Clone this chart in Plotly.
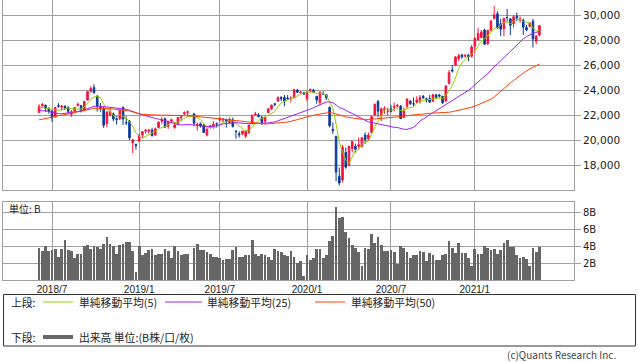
import plotly.graph_objects as go
import pandas as pd

# ---------------- data ----------------
dates = [
    # 2018
    "2018-06-04", "2018-06-11", "2018-06-18", "2018-06-25", "2018-07-02", "2018-07-09", "2018-07-16",
    "2018-07-23", "2018-07-30", "2018-08-06", "2018-08-13", "2018-08-20", "2018-08-27", "2018-09-03",
    "2018-09-10", "2018-09-17", "2018-09-24", "2018-10-01", "2018-10-08", "2018-10-15", "2018-10-22",
    "2018-10-29", "2018-11-05", "2018-11-12", "2018-11-19", "2018-11-26", "2018-12-03", "2018-12-10",
    "2018-12-17", "2018-12-24", "2018-12-31",
    # 2019
    "2019-01-07", "2019-01-14", "2019-01-21", "2019-01-28", "2019-02-04", "2019-02-11", "2019-02-18",
    "2019-02-25", "2019-03-04", "2019-03-11", "2019-03-18", "2019-03-25", "2019-04-01", "2019-04-08",
    "2019-04-15", "2019-04-22", "2019-05-06", "2019-05-13", "2019-05-20", "2019-05-27", "2019-06-03",
    "2019-06-10", "2019-06-17", "2019-06-24", "2019-07-01", "2019-07-08", "2019-07-15", "2019-07-22",
    "2019-07-29", "2019-08-05", "2019-08-12", "2019-08-19", "2019-08-26", "2019-09-02", "2019-09-09",
    "2019-09-16", "2019-09-23", "2019-09-30", "2019-10-07", "2019-10-14", "2019-10-21", "2019-10-28",
    "2019-11-04", "2019-11-11", "2019-11-18", "2019-11-25", "2019-12-02", "2019-12-09", "2019-12-16",
    "2019-12-23", "2019-12-30",
    # 2020
    "2020-01-06", "2020-01-13", "2020-01-20", "2020-01-27", "2020-02-03", "2020-02-10", "2020-02-17",
    "2020-02-24", "2020-03-02", "2020-03-09", "2020-03-16", "2020-03-23", "2020-03-30", "2020-04-06",
    "2020-04-13", "2020-04-20", "2020-04-27", "2020-05-04", "2020-05-11", "2020-05-18", "2020-05-25",
    "2020-06-01", "2020-06-08", "2020-06-15", "2020-06-22", "2020-06-29", "2020-07-06", "2020-07-13",
    "2020-07-20", "2020-07-27", "2020-08-03", "2020-08-10", "2020-08-17", "2020-08-24", "2020-08-31",
    "2020-09-07", "2020-09-14", "2020-09-21", "2020-09-28", "2020-10-05", "2020-10-12", "2020-10-19",
    "2020-10-26", "2020-11-02", "2020-11-09", "2020-11-16", "2020-11-23", "2020-11-30", "2020-12-07",
    "2020-12-14", "2020-12-21", "2020-12-28",
    # 2021
    "2021-01-04", "2021-01-11", "2021-01-18", "2021-01-25", "2021-02-01", "2021-02-08", "2021-02-15",
    "2021-02-22", "2021-03-01", "2021-03-08", "2021-03-15", "2021-03-22", "2021-03-29", "2021-04-05",
    "2021-04-12", "2021-04-19", "2021-04-26", "2021-05-03", "2021-05-10", "2021-05-17", "2021-05-24",
]

opens = [
    22200, 22760, 22780, 22480, 22330, 21860, 22750, 22620, 22680, 22600, 22050, 22300, 22750, 22750,
    22400, 23200, 23900, 24200, 23500, 22600, 22550, 21300, 22000, 22100, 21700, 21700, 22600, 21400,
    21500, 19790, 19655,
    19900, 20400, 20700, 20700, 20800, 20400, 21000, 21500, 21700, 21100, 21500, 21000, 21300, 21800,
    22100, 22200, 22100, 21200, 21300, 21200, 20400, 21100, 21100, 21300, 21600, 21600, 21600, 21400,
    21600, 20700, 20500, 20500, 20300, 20600, 21300, 22000, 22000, 21800, 21500, 22200, 22500, 22900,
    23100, 23400, 23400, 23350, 23300, 23400, 24000, 23800, 23800,
    23300, 23950, 24000, 23500, 23000, 23700, 23600, 22600, 20850, 20300, 17100, 16800, 19000, 18000,
    19300, 19500, 19500, 19500, 20400, 20100, 20600, 22000, 23100, 22000, 22400, 22300, 22500, 22600,
    22700, 22700, 21800, 22700, 23100, 22900, 23000, 23100, 23500, 23300, 23300, 23100, 23600, 23600,
    23500, 23100, 24500, 25600, 26000, 26500, 26800, 26700, 26800, 26700,
    27500, 28000, 28200, 28800, 27700, 28800, 29700, 30100, 29300, 28900, 29800, 29700, 29300, 29900,
    29600, 29600, 29000, 29100, 29500, 27900, 28400,
]

highs = [
    22860, 22970, 22830, 22620, 22360, 22620, 22950, 22800, 22800, 22700, 22400, 22650, 23000, 22800,
    23100, 23900, 24290, 24450, 23600, 22960, 22700, 22300, 22580, 22200, 21900, 22450, 22700, 21900,
    21600, 20100, 19690,
    20500, 20700, 20900, 20900, 20980, 21000, 21500, 21860, 21800, 21550, 21700, 21400, 21800, 21900,
    22300, 22360, 22100, 21400, 21400, 21300, 20900, 21200, 21500, 21400, 21800, 21700, 21700, 21800,
    21800, 20800, 20700, 20750, 20750, 21200, 22000, 22250, 22150, 21950, 21900, 22500, 22800, 22970,
    23500, 23520, 23600, 23600, 23500, 24100, 24100, 23900, 23800,
    23900, 24115, 24100, 23500, 23900, 23900, 23700, 22700, 21400, 20300, 17800, 19600, 19400, 19500,
    19900, 19700, 20200, 20200, 20600, 20600, 21900, 22900, 23180, 22600, 22700, 22600, 22800, 23000,
    22900, 22800, 22600, 23300, 23200, 23400, 23500, 23600, 23600, 23400, 23600, 23700, 23700, 23700,
    23500, 24400, 25600, 26000, 26700, 26900, 26900, 26900, 26900, 27600,
    28200, 28980, 28800, 28900, 28800, 29600, 30714, 30300, 29700, 29800, 30480, 29700, 30000, 30200,
    29900, 29700, 29200, 29400, 29700, 28400, 29200,
]

lows = [
    22170, 22600, 22250, 22110, 21460, 21800, 22580, 22350, 22400, 22050, 21850, 22150, 22700, 22200,
    22300, 23150, 23800, 23700, 22270, 22260, 20970, 21030, 21900, 21500, 21240, 21600, 21200, 21200,
    20000, 18950, 19240,
    19900, 20200, 20500, 20500, 20300, 20350, 20950, 21300, 21000, 20900, 21350, 20900, 21250, 21500,
    22000, 21900, 21100, 20750, 21000, 20600, 20300, 20900, 20900, 21000, 21500, 21400, 21000, 21400,
    21000, 20110, 20200, 20400, 20170, 20500, 21300, 21950, 21800, 21200, 21300, 22150, 22400, 22700,
    23100, 23100, 22700, 23250, 23000, 23300, 23800, 23700, 23650,
    23100, 23800, 23750, 22900, 22800, 23600, 23200, 21000, 20500, 16690, 16358, 16600, 17700, 17900,
    19000, 19000, 19300, 19400, 19700, 20000, 20600, 21900, 21800, 21500, 22100, 21950, 22200, 22300,
    22600, 21700, 21800, 22500, 22800, 22700, 23000, 22900, 23300, 23000, 23000, 23100, 23400, 23400,
    22900, 23100, 24500, 25400, 25900, 26300, 26500, 26600, 26300, 26600,
    27000, 28000, 28200, 27600, 27600, 28700, 29700, 28900, 28300, 28300, 29400, 28400, 29000, 29500,
    29400, 28400, 28700, 29000, 27400, 27650, 28300,
]

closes = [
    22694, 22851, 22516, 22304, 21788, 22597, 22697, 22712, 22525, 22298, 22270, 22601, 22865, 22307,
    23094, 23869, 24120, 23784, 22694, 22532, 21184, 22243, 22250, 21680, 21646, 22351, 21679, 21375,
    20166, 20015, 19561,
    20360, 20666, 20774, 20788, 20333, 20900, 21425, 21602, 21025, 21450, 21627, 21205, 21807, 21870,
    22200, 22258, 21344, 21250, 21117, 20601, 20884, 21116, 21258, 21275, 21746, 21686, 21467, 21658,
    21087, 20684, 20418, 20710, 20704, 21199, 21988, 22079, 21878, 21410, 21798, 22492, 22799, 22851,
    23391, 23303, 23112, 23293, 23354, 24023, 23816, 23837, 23656,
    23850, 24041, 23827, 23205, 23827, 23688, 23386, 21142, 20749, 17431, 16552, 19389, 17820, 19498,
    19897, 19262, 19619, 20179, 20037, 20388, 21877, 22863, 22305, 22478, 22512, 22306, 22290, 22696,
    22751, 21710, 22329, 23289, 22920, 22882, 23205, 23406, 23360, 23205, 23029, 23619, 23410, 23516,
    22977, 24325, 25385, 25527, 26644, 26751, 26652, 26763, 26656, 27444,
    28139, 28519, 28631, 27663, 28779, 29520, 30018, 28966, 28864, 29717, 29792, 29176, 29854, 29768,
    29683, 29020, 28812, 29357, 28084, 28317, 29149,
]

volumes_b = [
    3.8, 3.4, 4.0, 3.4, 3.5, 3.7, 2.75, 3.6, 4.7, 3.5, 3.4, 2.6, 3.1, 3.05, 4.0, 4.1, 3.6, 4.0, 3.85,
    3.7, 4.2, 5.1, 4.2, 4.0, 3.05, 4.1, 4.2, 4.5, 4.5, 3.4, 0.95,
    4.0, 2.9, 3.2, 3.5, 3.6, 2.9, 3.05, 3.1, 3.6, 3.4, 2.6, 4.0, 3.4, 3.0, 3.1, 3.05, 3.8, 4.2, 3.5,
    3.5, 3.25, 3.1, 2.75, 2.7, 2.6, 2.4, 2.5, 2.5, 3.5, 3.85, 2.65, 2.65, 3.0, 2.9, 4.7, 3.05, 2.85,
    3.1, 3.0, 2.65, 2.35, 3.6, 3.4, 3.3, 2.9, 2.8, 3.4, 2.75, 2.0, 2.2, 0.45,
    3.0, 2.4, 2.6, 3.7, 3.65, 2.6, 2.9, 4.6, 5.2, 8.55, 7.35, 7.4, 5.6, 5.0, 4.1, 3.8, 3.3, 1.7, 3.8,
    3.7, 5.4, 4.3, 5.1, 4.1, 3.4, 3.4, 3.5, 3.3, 1.85, 4.0, 3.8, 3.25, 2.55, 3.0, 3.0, 3.4, 3.25, 2.2,
    3.2, 2.9, 2.35, 2.35, 2.9, 3.1, 4.6, 3.8, 3.2, 4.3, 3.2, 3.2, 2.6, 1.6,
    3.65, 3.1, 3.1, 4.0, 3.8, 3.5, 3.6, 3.1, 3.5, 4.4, 4.7, 3.9, 3.9, 3.0, 2.6, 2.7, 2.5, 1.6, 3.8,
    3.25, 3.9,
]

# weekly closes before the visible range (warm-up of the moving averages)
prior_closes = [
    20033, 19929, 20118, 20099, 19959, 19952, 19729, 19470, 19452, 19691, 19275, 19909, 20296, 20356,
    20690, 21155, 21457, 22008, 22539, 22681, 22397, 22550, 22819, 22811, 22553, 22902, 22765,
    23714, 23653, 23808, 23632, 23274, 21383, 21720, 21893, 21182, 21469, 21676, 20618, 21454,
    21568, 21779, 22163, 22468, 22473, 22758, 22930, 22451, 22171,
]

ma_periods = [5, 25, 50]
ma_names = ["単純移動平均(5)", "単純移動平均(25)", "単純移動平均(50)"]

tick_dates = ["2018-07-02", "2019-01-07", "2019-07-01", "2020-01-06", "2020-07-06", "2021-01-04"]
tick_labels = ["2018/7", "2019/1", "2019/7", "2020/1", "2020/7", "2021/1"]
price_ticks = [18000, 20000, 22000, 24000, 26000, 28000, 30000]
volume_ticks = [2, 4, 6, 8]
volume_tick_labels = ["2B", "4B", "6B", "8B"]

# ---------------- styles ----------------
W, H = 638, 362
RED = "#f5123e"
BLUE = "#0b3a99"
MA_COLORS = ["#99cc00", "#a020f0", "#ff4000"]
VOL_COLOR = "#666666"
GRID = "#a0a0a0"
TXT = "#222222"
JP_FONT = "Noto Sans CJK JP"
LEG_SIZE = 10.8


def fx(p):
    return p / W


def fy(p):
    return 1 - p / H


all_closes = pd.Series(prior_closes + closes, dtype=float)
n_prior = len(prior_closes)
mas = [all_closes.rolling(n).mean().iloc[n_prior:].tolist() for n in ma_periods]

week_ms = 7 * 24 * 3600 * 1000

fig = go.Figure()

fig.add_trace(go.Candlestick(
    x=dates, open=opens, high=highs, low=lows, close=closes,
    increasing=dict(line=dict(color=RED, width=1), fillcolor=RED),
    decreasing=dict(line=dict(color=BLUE, width=1), fillcolor=BLUE),
    whiskerwidth=0, showlegend=False, hoverinfo="skip",
    xaxis="x", yaxis="y",
))

for ma, color in zip(mas, MA_COLORS):
    fig.add_trace(go.Scatter(
        x=dates, y=ma, mode="lines", line=dict(color=color, width=1),
        showlegend=False, hoverinfo="skip", xaxis="x", yaxis="y",
    ))

fig.add_trace(go.Bar(
    x=dates, y=volumes_b, marker=dict(color=VOL_COLOR, line=dict(width=0)),
    width=0.85 * week_ms, showlegend=False, hoverinfo="skip",
    xaxis="x2", yaxis="y2",
))

x_range = ["2018-03-17 16:30", "2021-08-07"]
xdom = [fx(3), fx(574)]

common_x = dict(
    type="date", domain=xdom, range=x_range, tickvals=tick_dates,
    showgrid=True, gridcolor=GRID, gridwidth=1, showline=True, mirror=True,
    linecolor=GRID, linewidth=1, zeroline=False, ticks="",
)
common_y = dict(
    side="right", showgrid=True, gridcolor=GRID, gridwidth=1, showline=True,
    mirror=True, linecolor=GRID, linewidth=1, zeroline=False,
    ticks="outside", ticklen=6, tickcolor=GRID,
)

fig.update_layout(
    width=W, height=H,
    margin=dict(l=0, r=0, t=0, b=0),
    paper_bgcolor="white", plot_bgcolor="white",
    bargap=0,
    xaxis=dict(**common_x, anchor="y", showticklabels=False,
               rangeslider=dict(visible=False)),
    xaxis2=dict(**common_x, anchor="y2", matches="x", showticklabels=True,
                ticktext=tick_labels,
                tickfont=dict(family="Liberation Sans", size=10, color=TXT)),
    yaxis=dict(**common_y, domain=[fy(190), fy(0)], range=[16000, 31200],
               tickvals=price_ticks, tickformat=",d", anchor="x",
               tickfont=dict(family="DejaVu Sans", size=10.6, color=TXT)),
    yaxis2=dict(**common_y, domain=[fy(280), fy(202)], range=[0, 9.18],
                tickvals=volume_ticks, ticktext=volume_tick_labels, anchor="x2",
                tickfont=dict(family="DejaVu Sans", size=10, color=TXT)),
)

# legend box
shapes = [
    dict(type="rect", xref="paper", yref="paper", x0=fx(3.5), x1=fx(635.5), y0=fy(346), y1=fy(294.5),
         line=dict(color="#333333", width=1), fillcolor="rgba(0,0,0,0)"),
]
line_samples = [(43, 73), (165, 202), (315, 345)]
for (a, b), color in zip(line_samples, MA_COLORS):
    shapes.append(dict(type="line", xref="paper", yref="paper", x0=fx(a), x1=fx(b), y0=fy(302), y1=fy(302),
                       line=dict(color=color, width=1)))
shapes.append(dict(type="line", xref="paper", yref="paper", x0=fx(43), x1=fx(73), y0=fy(337), y1=fy(337),
                   line=dict(color=VOL_COLOR, width=4)))

annotations = []


def txt(x, y, s, anchor="left", size=LEG_SIZE, color=TXT):
    annotations.append(dict(xref="paper", yref="paper", x=fx(x), y=fy(y), text=s, showarrow=False,
                            xanchor=anchor, yanchor="middle",
                            font=dict(family=JP_FONT, size=size, color=color)))


txt(9, 302, "上段:")
for x0, name in zip([77, 205, 349], ma_names):
    txt(x0, 302, name)
txt(9, 337, "下段:")
txt(77, 337, "出来高 単位:(B株/口/枚)")
txt(7, 208, "単位: B", size=10)
txt(618, 354, "(c)Quants Research Inc.", anchor="right", size=10, color="#444444")

fig.update_layout(shapes=shapes, annotations=annotations)

fig.write_html(
    "out.html",
    config={"displayModeBar": False},
    post_script="document.body.style.margin='0px';document.body.style.overflow='hidden';",
)
